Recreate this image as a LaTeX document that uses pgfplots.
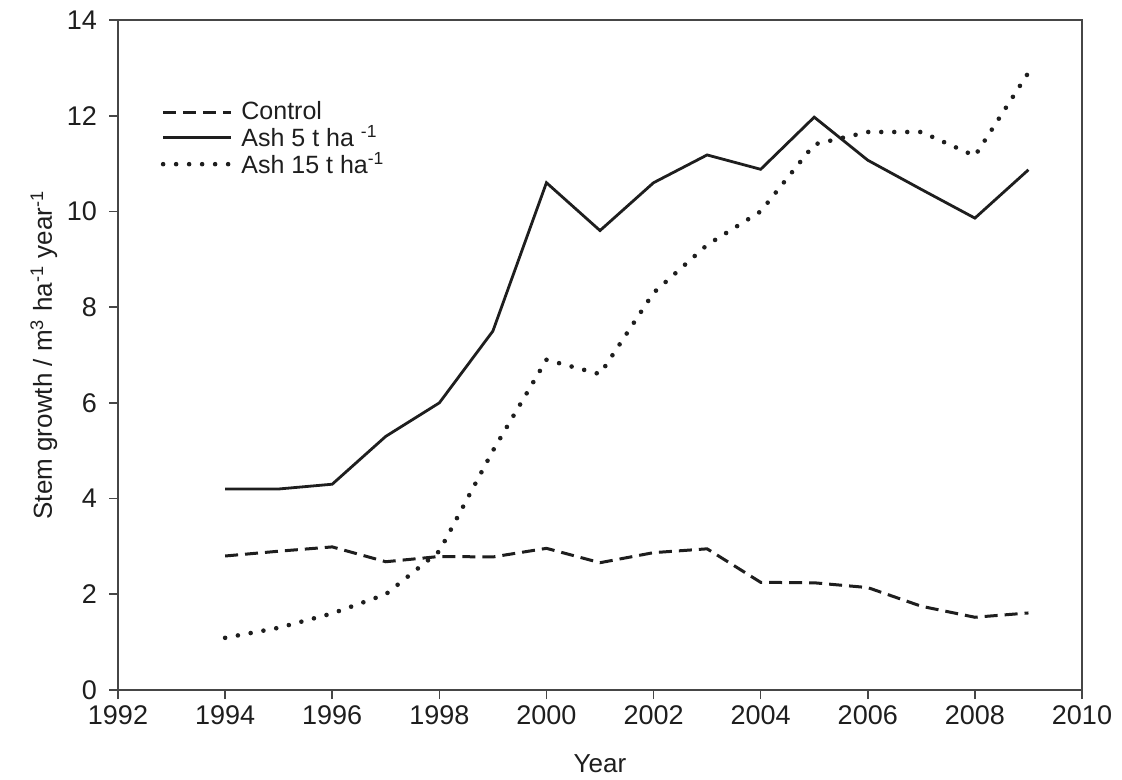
\documentclass[border=0pt]{standalone}
\usepackage{pgfplots}
\pgfplotsset{compat=1.18}
\usepackage{fontspec}
\setmainfont{Liberation Sans}

\definecolor{ink}{RGB}{30,30,30}
\definecolor{frame}{RGB}{70,70,70}

\begin{document}
\begin{tikzpicture}
\begin{axis}[
  name=ax,
  scale only axis,
  width=482pt, height=335pt,
  xmin=1992, xmax=2010, ymin=0, ymax=14,
  xtick={1992,1994,...,2010},
  ytick={0,2,...,14},
  xtick pos=bottom, ytick pos=left,
  tick align=outside,
  major tick length=4.5pt,
  axis line style={frame, line width=0.8pt},
  every tick/.style={frame, line width=0.8pt},
  /pgf/number format/assume math mode=true,
  /pgf/number format/.cd, 1000 sep={}, /pgfplots/.cd,
  tick label style={font=\fontsize{13.5}{15}\selectfont, color=ink},
  xticklabel style={yshift=0pt},
  yticklabel style={xshift=-2.5pt},
  xlabel={Year},
  ylabel={Stem growth / m\textsuperscript{3} ha\textsuperscript{-1} year\textsuperscript{-1}},
  label style={font=\fontsize{13}{15}\selectfont, color=ink},
  xlabel style={yshift=-8pt},
  ylabel style={yshift=-2pt},
  legend style={draw=none, fill=none, at={(0.044,0.882)}, anchor=north west,
    font=\fontsize{12.5}{13}\selectfont, text=ink,
    row sep=-0.5pt, inner sep=0pt,
    nodes={inner xsep=4pt, inner ysep=1pt}},
  legend cell align=left,
  legend image code/.code={\draw[#1] (0pt,0pt) -- (34pt,0pt);},
]
% Control
\addplot[ink, line width=1.5pt, dash pattern=on 6.5pt off 3.5pt] coordinates {
  (1994,2.80) (1995,2.90) (1996,2.99) (1997,2.68) (1998,2.79) (1999,2.78)
  (2000,2.96) (2001,2.66) (2002,2.87) (2003,2.95) (2004,2.25) (2005,2.24)
  (2006,2.14) (2007,1.75) (2008,1.52) (2009,1.61)};
\addlegendentry{Control}
% Ash 5 t/ha
\addplot[ink, line width=1.4pt] coordinates {
  (1994,4.20) (1995,4.20) (1996,4.30) (1997,5.30) (1998,6.00) (1999,7.50)
  (2000,10.60) (2001,9.60) (2002,10.60) (2003,11.18) (2004,10.88) (2005,11.97)
  (2006,11.07) (2007,10.46) (2008,9.86) (2009,10.87)};
\addlegendentry{Ash 5 t ha \textsuperscript{-1}}
% Ash 15 t/ha
\addplot[ink, line width=2.3pt, line cap=round, dash pattern=on 0pt off 6.5pt] coordinates {
  (1994,1.09) (1995,1.30) (1996,1.60) (1997,2.00) (1998,2.90) (1999,5.00)
  (2000,6.90) (2001,6.60) (2002,8.30) (2003,9.30) (2004,10.00) (2005,11.40)
  (2006,11.66) (2007,11.66) (2008,11.16) (2009,12.90)};
\addlegendentry{Ash 15 t ha\textsuperscript{-1}}
\end{axis}
\path ([xshift=-59pt,yshift=-45pt]ax.south west) rectangle ([xshift=20pt,yshift=10pt]ax.north east);
\end{tikzpicture}
\end{document}
